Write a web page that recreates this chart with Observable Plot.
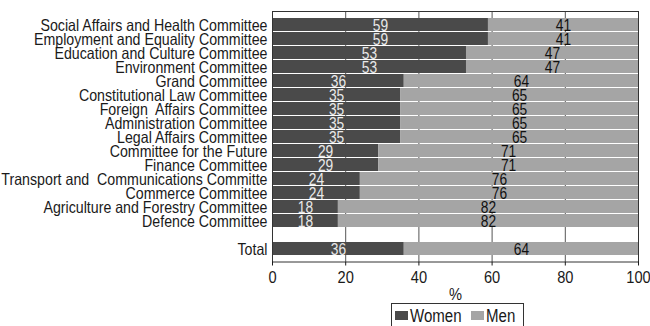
<!DOCTYPE html>
<html>
<head>
<meta charset="utf-8">
<script src="https://cdn.jsdelivr.net/npm/d3@7"></script>
<script src="https://cdn.jsdelivr.net/npm/@observablehq/plot@0.6"></script>
<style>
  body { margin: 0; background: #fff; }
  #wrap { position: relative; width: 650px; height: 326px; overflow: hidden; }
  #legend { position: absolute; left: 391px; top: 303px; }
</style>
</head>
<body>
<div id="wrap"><div id="chart"></div><div id="legend"></div></div>
<script>
const categories = [
  "Social Affairs and Health Committee",
  "Employment and Equality Committee",
  "Education and Culture Committee",
  "Environment Committee",
  "Grand Committee",
  "Constitutional Law Committee",
  "Foreign  Affairs Committee",
  "Administration Committee",
  "Legal Affairs Committee",
  "Committee for the Future",
  "Finance Committee",
  "Transport and  Communications Committe",
  "Commerce Committee",
  "Agriculture and Forestry Committee",
  "Defence Committee",
  "Total"
];
const women = [59, 59, 53, 53, 36, 35, 35, 35, 35, 29, 29, 24, 24, 18, 18, 36];
const men   = [41, 41, 47, 47, 64, 65, 65, 65, 65, 71, 71, 76, 76, 82, 82, 64];
const series = ["Women", "Men"];
const colors = ["#4a4a4a", "#a5a5a5"];
const xTicks = [0, 20, 40, 60, 80, 100];

const FONT = '"Liberation Sans", Arial, sans-serif';

const data = [];
categories.forEach((c, i) => {
  data.push({cat: c, sex: "Women", value: women[i]});
  data.push({cat: c, sex: "Men", value: men[i]});
});
const yDomain = [...categories.slice(0, -1), " ", "Total"];

const chart = Plot.plot({
  width: 650,
  height: 303,
  marginLeft: 272,
  marginRight: 12,
  marginTop: 11,
  marginBottom: 41.5,
  style: {fontFamily: FONT, background: "#fff"},
  x: {domain: [0, 100], ticks: xTicks, label: "%"},
  y: {domain: yDomain, padding: 0.1, label: null},
  color: {domain: series, range: colors},
  marks: [
    Plot.gridX(xTicks.slice(1, -1), {stroke: "#555", strokeOpacity: 1}),
    Plot.barX(data, Plot.stackX({x: "value", y: "cat", fill: "sex", order: series})),
    Plot.textX(data, Plot.stackX({x: "value", y: "cat", z: "sex", order: series, text: d => String(d.value),
      fill: d => d.sex === "Women" ? "#e8e8e8" : "#111", fontSize: 16, dy: 1})),
    Plot.frame({stroke: "#333"}),
    Plot.axisY({tickSize: 0, tickPadding: 5, fontSize: 16.5, color: "#1a1a1a", dy: 0.5}),
    Plot.axisX({ticks: xTicks, tickSize: 4, tickPadding: 5, fontSize: 17, color: "#1a1a1a", label: "%", labelAnchor: "center", labelArrow: "none", labelOffset: 38})
  ]
});
document.getElementById("chart").appendChild(chart);

// condensed look: compress every text horizontally
function condense(root, factor) {
  root.querySelectorAll("text").forEach(t => {
    const L = t.getComputedTextLength();
    if (L > 0) {
      t.setAttribute("textLength", (L * factor).toFixed(2));
      t.setAttribute("lengthAdjust", "spacingAndGlyphs");
    }
  });
}
let factor = 0.8;
const first = Array.from(chart.querySelectorAll("text")).find(t => t.textContent === categories[0]);
if (first) factor = 227 / first.getComputedTextLength();
condense(chart, factor);

// legend
const lg = d3.select("#legend").append("svg").attr("width", 134).attr("height", 30).style("font-family", FONT);
lg.append("rect").attr("x", 0.5).attr("y", 0.5).attr("width", 132).attr("height", 30).attr("fill", "#fff").attr("stroke", "#333");
const lx = [4, 80];
series.forEach((s, i) => {
  lg.append("rect").attr("x", lx[i]).attr("y", 8).attr("width", 13).attr("height", 9).attr("fill", colors[i]);
  lg.append("text").attr("x", lx[i] + 15).attr("y", 19).attr("font-size", 17.5).attr("fill", "#1a1a1a").text(s);
});
condense(lg.node(), factor);
</script>
</body>
</html>
